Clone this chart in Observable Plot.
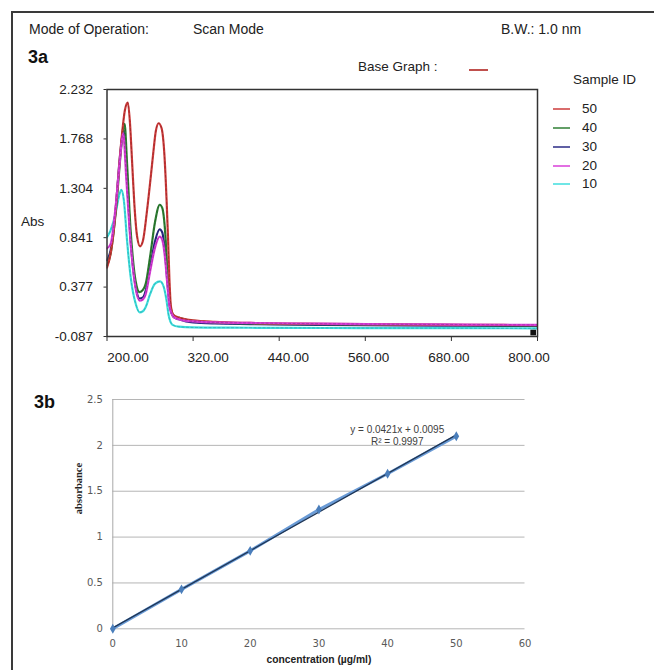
<!DOCTYPE html>
<html><head><meta charset="utf-8">
<script src="https://cdn.jsdelivr.net/npm/d3@7"></script>
<script src="https://cdn.jsdelivr.net/npm/@observablehq/plot@0.6"></script>
<style>
body{margin:0;background:#fff;}
#root{position:relative;width:654px;height:670px;overflow:hidden;font-family:"Liberation Sans",Arial,sans-serif;color:#222;background:#fff;}
.t{position:absolute;white-space:nowrap;line-height:1;}
.sw{position:absolute;height:2px;}
.plot{position:absolute;left:0;}
#frame{position:absolute;left:11px;top:11px;width:700px;height:700px;border-left:2px solid #3a3a3a;border-top:2px solid #3a3a3a;}
</style></head><body><div id="root"><div id="frame"></div></div>
<script>
// ---------- Panel 3a : UV scan spectra ----------
const wavelengthTicks = [200, 320, 440, 560, 680, 800];
const absTicks = [-0.087, 0.377, 0.841, 1.304, 1.768, 2.232];
const sampleIds = ["50", "40", "30", "20", "10"];
const sampleColors = ["#cc3b3b", "#2f7f34", "#2b2b85", "#d83fd8", "#3fdede"];
const sampleDark = ["#6e1515", "#1a4a1c", "#141450", "#7a1f7a", "#1f8a8a"];

const wl50 = [200,205,210,215,220,225,229,232,235,238,242,246,250,255,260,265,268,272,276,280,283,285,287,289,292,296,300,310,320,350,400,500,600,700,800];
const abs50 = [0.56,0.69,0.95,1.35,1.75,2.04,2.11,1.92,1.55,1.17,0.85,0.76,0.81,1.05,1.35,1.67,1.84,1.915,1.87,1.62,1.2,0.85,0.45,0.2,0.12,0.1,0.09,0.075,0.065,0.05,0.04,0.032,0.027,0.023,0.02];
const wl40 = [200,205,212,219,222,224.5,228,233,236,240,245.5,250,254,260,267,273.5,277,281,284,287,290,293,297,300,310,320,350,400,500,600,700,800];
const abs40 = [0.58,0.69,1.07,1.63,1.85,1.91,1.53,0.9,0.65,0.43,0.33,0.35,0.41,0.66,0.99,1.15,1.12,0.9,0.56,0.28,0.15,0.11,0.095,0.09,0.07,0.06,0.045,0.035,0.028,0.024,0.02,0.017];
const wl30 = [200,205,212,218,223.5,228,233,240,245.5,250,254,260,267,273.5,277,281,284,287,290,294,300,310,320,350,400,500,600,700,800];
const abs30 = [0.63,0.72,1.1,1.6,1.85,1.38,0.81,0.38,0.27,0.28,0.345,0.56,0.81,0.92,0.89,0.69,0.44,0.22,0.13,0.09,0.075,0.055,0.045,0.035,0.03,0.022,0.018,0.014,0.012];
const wl20 = [200,205,212,218,222.5,227,233,240,245.5,250,254,260,267,273.5,277,281,284,287,290,294,300,310,320,350,400,500,600,700,800];
const abs20 = [0.74,0.78,1.13,1.57,1.82,1.38,0.78,0.36,0.25,0.26,0.31,0.52,0.75,0.85,0.82,0.64,0.41,0.2,0.13,0.09,0.075,0.06,0.055,0.045,0.04,0.033,0.028,0.025,0.022];
const wl10 = [200,205,212,217,220,223.5,228,233,240,245.5,250,254,260,267,274,279,283,286,288.5,292,300,320,350,400,500,600,700,800];
const abs10 = [0.845,0.91,1.07,1.24,1.29,1.19,0.81,0.47,0.22,0.14,0.15,0.19,0.31,0.41,0.43,0.38,0.25,0.11,0.05,0.02,0.005,-0.002,-0.004,-0.005,-0.007,-0.008,-0.009,-0.01];
const endMarkerWl = [794];
const endMarkerAbs = [-0.05];

// ---------- Panel 3b : calibration ----------
const concentration = [0, 10, 20, 30, 40, 50];
const absorbance = [0, 0.43, 0.85, 1.30, 1.69, 2.10];
const concTicks = [0, 10, 20, 30, 40, 50, 60];
const absCalTicks = [0, 0.5, 1, 1.5, 2, 2.5];
const equationLines = ["y = 0.0421x + 0.0095", "R\u00b2 = 0.9997"];
const equationX = [41.4, 41.4];
const equationY = [2.173, 2.034];

const root = document.getElementById("root");
function addText(txt, left, top, size, extra) {
  const d = document.createElement("div");
  d.className = "t";
  d.textContent = txt;
  d.style.left = left + "px";
  d.style.top = top + "px";
  d.style.fontSize = size + "px";
  if (extra) Object.assign(d.style, extra);
  root.appendChild(d);
}
function addSwatch(left, top, width, color) {
  const d = document.createElement("div");
  d.className = "sw";
  d.style.left = left + "px";
  d.style.top = top + "px";
  d.style.width = width + "px";
  d.style.background = color;
  root.appendChild(d);
}

// header
addText("Mode of Operation:", 29, 22, 14);
addText("Scan Mode", 193, 22, 14);
addText("B.W.:  1.0 nm", 501, 22, 14);
addText("3a", 28, 48, 18, {fontWeight: "bold", color: "#111"});
addText("Base Graph :", 358, 60, 13.5);
addSwatch(469, 69, 19, "#c0504d");
addText("Sample ID", 573, 73, 13.5);
const legendY = [109, 128, 147, 165.5, 184];
sampleIds.forEach((id, i) => {
  addSwatch(553, legendY[i] - 1, 17, sampleColors[i]);
  root.lastChild.style.opacity = 0.75;
  addText(id, 582, legendY[i] - 6.6, 13.5);
});
addText("Abs", 21, 215, 13.5);
addText("3b", 34, 393, 18, {fontWeight: "bold", color: "#111"});

const spectra = {
  "50": [wl50, abs50], "40": [wl40, abs40], "30": [wl30, abs30], "20": [wl20, abs20], "10": [wl10, abs10]
};
const drawOrder = ["10", "30", "40", "50", "20"];
const lineMarks = drawOrder.flatMap(id => {
  const i = sampleIds.indexOf(id);
  const [wl, ab] = spectra[id];
  return [
    Plot.line(ab, {x: wl, y: ab, stroke: sampleColors[i], strokeWidth: 2.2, curve: "monotone-x", clip: true}),
    Plot.line(ab, {x: wl, y: ab, stroke: sampleDark[i], strokeWidth: 0.8, strokeDasharray: "2,2.5", strokeOpacity: 0.55, curve: "monotone-x", clip: true})
  ];
});
// tick labels of the instrument software sit slightly off their ticks
const xLabelMarks = wavelengthTicks.map((t, i) =>
  Plot.text([t], {x: d => d, frameAnchor: "bottom", lineAnchor: "middle", dy: 21, dx: 21 - 5.9 * i, text: d => d.toFixed(2), fontSize: 13.5, fill: "#222"})
);

const p1 = Plot.plot({
  width: 654, height: 380,
  marginLeft: 106.5, marginRight: 117, marginTop: 89, marginBottom: 44,
  style: {fontFamily: "Liberation Sans, Arial, sans-serif", fontSize: "13.5px", color: "#222", background: "transparent", overflow: "visible"},
  x: {domain: [200, 800]},
  y: {domain: [-0.087, 2.232]},
  marks: [
    ...lineMarks,
    Plot.dot(endMarkerAbs, {x: endMarkerWl, y: endMarkerAbs, symbol: "square", r: 3.2, fill: "#111"}),
    Plot.frame({stroke: "#333", strokeWidth: 1.5}),
    Plot.axisX({ticks: wavelengthTicks, tickFormat: () => "", tickSize: 5, label: null, stroke: "#333"}),
    ...xLabelMarks,
    Plot.axisY({ticks: absTicks, tickFormat: d => d.toFixed(3), tickSize: 3, tickPadding: 11, label: null, stroke: "#333"})
  ]
});
p1.classList.add("plot");
p1.style.top = "0px";
root.appendChild(p1);

const calib = concentration.map((c, i) => ({c, a: absorbance[i]}));
const eq = equationLines.map((t, i) => ({t, x: equationX[i], y: equationY[i]}));
const p2 = Plot.plot({
  width: 654, height: 290,
  marginLeft: 112.3, marginRight: 129.5, marginTop: 19, marginBottom: 41.7,
  style: {fontFamily: "DejaVu Sans, sans-serif", fontSize: "10px", color: "#595959", background: "transparent", overflow: "visible"},
  x: {domain: [0, 60]},
  y: {domain: [0, 2.5]},
  marks: [
    Plot.gridY(absCalTicks, {stroke: "#b5b5b5", strokeOpacity: 1, strokeWidth: 1}),
    Plot.ruleX([0], {stroke: "#a8a8a8", strokeWidth: 1}),
    Plot.axisY({ticks: absCalTicks, tickFormat: d => String(d), tickSize: 0, tickPadding: 10, label: null}),
    Plot.axisX({ticks: concTicks, tickFormat: d => String(d), tickSize: 0, tickPadding: 11, label: null}),
    Plot.line(calib, {x: "c", y: "a", stroke: "#6a9bd6", strokeWidth: 3}),
    Plot.linearRegressionY(calib, {x: "c", y: "a", stroke: "#1f3656", strokeWidth: 1.3, ci: 0}),
    Plot.dot(calib, {x: "c", y: "a", symbol: "diamond", r: 3, fill: "#4a7ebb"}),
    Plot.text(eq, {x: "x", y: "y", text: "t", fontFamily: "Liberation Sans, Arial, sans-serif", fontSize: 10, fill: "#404040"}),
    Plot.text(["concentration (\u00b5g/ml)"], {frameAnchor: "bottom", lineAnchor: "middle", dy: 31, fontFamily: "Liberation Sans, Arial, sans-serif", fontSize: 10.3, fontWeight: "bold", fill: "#222"}),
    Plot.text(["absorbance"], {frameAnchor: "left", dx: -34, rotate: -90, fontFamily: "Liberation Serif, serif", fontSize: 10.5, fontWeight: "bold", fill: "#222"})
  ]
});
p2.classList.add("plot");
p2.style.top = "380px";
root.appendChild(p2);
</script>
</body></html>
